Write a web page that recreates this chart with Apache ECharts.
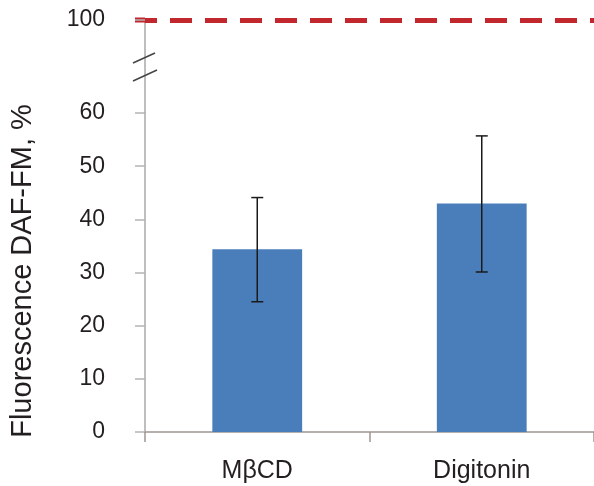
<!DOCTYPE html>
<html>
<head>
<meta charset="utf-8">
<style>html,body{margin:0;padding:0;background:#fff;}#c{width:594px;height:486px;}</style>
<script src="https://cdn.jsdelivr.net/npm/echarts@6/dist/echarts.min.js"></script>
</head>
<body>
<div id="c"></div>
<script>
const categories = ['MβCD', 'Digitonin'];
const means = [34.4, 43.0];
const errLow = [24.5, 30.1];
const errHigh = [44.1, 55.7];
const referenceLevel = 100;
const yMin = 0, yMax = 100, yInterval = 10;
const breakStart = 60, breakEnd = 100;

const chart = echarts.init(document.getElementById('c'), null, {renderer: 'canvas'});
const font = 'Liberation Sans, Arial, sans-serif';
chart.setOption({
  animation: false,
  grid: {left: 145, right: 0, top: 20, bottom: 54},
  xAxis: {
    type: 'category',
    data: categories,
    axisLine: {lineStyle: {color: '#9e9590', width: 1.5}},
    axisTick: {show: true, length: 10, lineStyle: {color: '#9e9590', width: 1.5}},
    axisLabel: {fontSize: 25, color: '#231f20', fontFamily: font, margin: 27}
  },
  yAxis: {
    type: 'value',
    min: yMin, max: yMax, interval: yInterval,
    breaks: [{start: breakStart, end: breakEnd, gap: 17.5}],
    breakArea: {show: false},
    splitLine: {show: false},
    axisLine: {show: true, lineStyle: {color: '#a8a8a8', width: 1.5}},
    axisTick: {show: true, length: 10, lineStyle: {color: '#b4b4b4', width: 1.5}},
    axisLabel: {fontSize: 23, color: '#231f20', fontFamily: font, margin: 40}
  },
  graphic: [
    {type: 'line', shape: {x1: 145, y1: 20, x2: 145, y2: 113}, style: {stroke: '#a8a8a8', lineWidth: 1.5}},
    {type: 'line', shape: {x1: 135, y1: 20, x2: 145, y2: 20}, style: {stroke: '#c1272d', lineWidth: 5}},
    {type: 'line', shape: {x1: 133, y1: 63, x2: 155, y2: 53}, style: {stroke: '#444', lineWidth: 1.5}},
    {type: 'line', shape: {x1: 133, y1: 81, x2: 157, y2: 70}, style: {stroke: '#444', lineWidth: 1.5}},
    {type: 'text', x: 23, y: 271, rotation: Math.PI / 2,
     style: {text: 'Fluorescence DAF-FM, %', fontSize: 29, fontFamily: font, fill: '#231f20', align: 'center', verticalAlign: 'middle'}}
  ],
  series: [
    {
      type: 'bar',
      data: means,
      barWidth: '40%',
      itemStyle: {color: '#4a7ebb'},
      markLine: {
        silent: true, symbol: 'none', label: {show: false},
        lineStyle: {color: '#c1272d', type: [22, 13], width: 5, dashOffset: 10},
        data: [{yAxis: referenceLevel}]
      }
    },
    {
      type: 'custom',
      data: categories.map((c, i) => [i, errLow[i], errHigh[i]]),
      renderItem: function (params, api) {
        const lo = api.coord([api.value(0), api.value(1)]);
        const hi = api.coord([api.value(0), api.value(2)]);
        const w = 6;
        const st = {stroke: '#1a1a1a', lineWidth: 1.5};
        return {type: 'group', children: [
          {type: 'line', shape: {x1: hi[0], y1: hi[1], x2: lo[0], y2: lo[1]}, style: st},
          {type: 'line', shape: {x1: hi[0] - w, y1: hi[1], x2: hi[0] + w, y2: hi[1]}, style: st},
          {type: 'line', shape: {x1: lo[0] - w, y1: lo[1], x2: lo[0] + w, y2: lo[1]}, style: st}
        ]};
      },
      z: 10
    }
  ]
});
</script>
</body>
</html>
